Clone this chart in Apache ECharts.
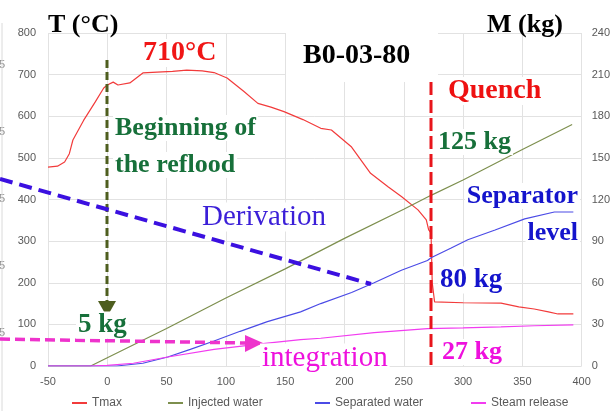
<!DOCTYPE html>
<html><head><meta charset="utf-8">
<script src="https://cdn.jsdelivr.net/npm/echarts@6/dist/echarts.min.js"></script>
<style>html,body{margin:0;padding:0;background:#fff}#c{width:613px;height:411px}</style>
</head><body><div id="c"></div>
<script>
// ---- data ----
const tmaxX = [-50, -42, -36, -32, -29, -20, -10, -3, 0, 5, 9, 19, 30, 42, 55, 67, 80, 90, 101, 115, 127, 138, 149, 165, 180, 189, 206, 222, 237, 248, 262, 269, 271, 273, 274, 276, 300, 332, 347, 360, 372, 380, 393];
const tmaxT = [478, 480, 490, 510, 543, 590, 635, 668, 675, 682, 675, 680, 704, 706, 708, 711, 709, 705, 692, 660, 631, 622, 611, 592, 571, 567, 526, 463, 430, 407, 375, 351, 327, 320, 200, 154, 152, 151, 142, 137, 130, 125, 125];

const injX = [-50, -14, 0, 50, 100, 150, 200, 250, 273, 300, 350, 392];
const injM = [0, 0, 6, 27, 49, 70, 92, 113, 123, 134, 156, 174];

const sepX = [-50, 0, 8, 30, 51, 70, 90, 112, 135, 163, 180, 206, 225, 248, 270, 273, 290, 304, 327, 352, 377, 393];
const sepM = [0, 0, 0, 2, 6.5, 12, 18, 25, 32, 39, 45, 53, 60, 69, 76, 78, 85, 91, 98, 106, 111, 111];

const steamX = [-50, -14, 0, 22, 51, 90, 135, 163, 180, 225, 270, 300, 332, 360, 393];
const steamM = [0, 0, 0.5, 2, 6.5, 12, 16.5, 19, 20, 24, 27, 27.5, 28.2, 29, 29.6];

const seriesNames = ['Tmax', 'Injected water', 'Separated water', 'Steam release'];
const seriesColors = ['#f23b3b', '#7d8f4e', '#4b4be6', '#f23cf0'];

const xTicks = {min: -50, max: 400, interval: 50};
const tTicks = {min: 0, max: 800, interval: 100};
const mTicks = {min: 0, max: 240, interval: 30};

// ---- chart ----
const zip = (xs, ys) => xs.map((x, i) => [x, ys[i]]);
const chart = echarts.init(document.getElementById('c'), null, {renderer: 'canvas'});
const gray = '#595959';
const axisFont = {color: gray, fontFamily: 'Liberation Sans', fontSize: 11};
const serif = 'Liberation Serif';

function txt(text, x, y, size, color, opts) {
  opts = opts || {};
  return {
    type: 'text', x: x, y: y, z: 100,
    style: {
      text: text, fill: color, fontFamily: serif, fontSize: size,
      fontWeight: opts.normal ? 'normal' : 'bold',
      align: opts.align || 'left', verticalAlign: 'middle',
      backgroundColor: opts.noBg ? 'transparent' : '#fff',
      padding: opts.pad || [0, 2, 0, 2]
    }
  };
}
function dline(x1, y1, x2, y2, color, w, dash) {
  return {type: 'line', z: 90, shape: {x1, y1, x2, y2},
    style: {stroke: color, lineWidth: w, lineDash: dash}};
}
function tri(points, color) {
  return {type: 'polygon', z: 91, shape: {points: points}, style: {fill: color}};
}

const legends = seriesNames.map((n, i) => ({
  data: [n], left: [72, 168, 315, 471][i], top: 397, icon: 'rect',
  itemWidth: 15, itemHeight: 2, padding: 0,
  textStyle: {color: gray, fontFamily: 'Liberation Sans', fontSize: 12}
}));

const leftFrag = [65, 132, 199, 266, 333].map(y => ({
  type: 'text', x: -1, y: y, style: {text: '5', fill: '#8a8a8a', fontFamily: 'Liberation Sans', fontSize: 11, verticalAlign: 'middle'}
}));

chart.setOption({
  animation: false,
  backgroundColor: '#fff',
  grid: {left: 48, right: 30, top: 33, bottom: 45},
  legend: legends,
  xAxis: {
    type: 'value', min: xTicks.min, max: xTicks.max, interval: xTicks.interval,
    axisLine: {show: false}, axisTick: {show: false},
    axisLabel: Object.assign({margin: 10}, axisFont),
    splitLine: {show: true, lineStyle: {color: '#e2e2e2', width: 1}}
  },
  yAxis: [
    {type: 'value', min: tTicks.min, max: tTicks.max, interval: tTicks.interval,
      axisLine: {show: false}, axisTick: {show: false},
      axisLabel: Object.assign({margin: 12}, axisFont),
      splitLine: {show: true, lineStyle: {color: '#e2e2e2', width: 1}}},
    {type: 'value', min: mTicks.min, max: mTicks.max, interval: mTicks.interval,
      axisLine: {show: false}, axisTick: {show: false},
      axisLabel: Object.assign({margin: 10}, axisFont),
      splitLine: {show: false}}
  ],
  series: [
    {name: seriesNames[0], type: 'line', yAxisIndex: 0, showSymbol: false, data: zip(tmaxX, tmaxT),
      color: seriesColors[0], lineStyle: {width: 1.2}},
    {name: seriesNames[1], type: 'line', yAxisIndex: 1, showSymbol: false, data: zip(injX, injM),
      color: seriesColors[1], lineStyle: {width: 1.2}},
    {name: seriesNames[2], type: 'line', yAxisIndex: 1, showSymbol: false, data: zip(sepX, sepM),
      color: seriesColors[2], lineStyle: {width: 1.2}},
    {name: seriesNames[3], type: 'line', yAxisIndex: 1, showSymbol: false, data: zip(steamX, steamM),
      color: seriesColors[3], lineStyle: {width: 1.2}}
  ],
  graphic: [
    // fragments of a neighbouring figure at the far left
    dline(2, 23, 2, 411, '#dadada', 1, null),
    ...leftFrag,
    // white box behind the title
    {type: 'rect', z: 80, shape: {x: 286, y: 27, width: 152, height: 55}, style: {fill: '#fff'}},
    txt('T (°C)', 46, 25, 26, '#000', {noBg: true}),
    txt('M (kg)', 485, 25, 26, '#000', {noBg: true}),
    txt('710°C', 141, 53, 28, '#f01616'),
    txt('B0-03-80', 301, 56, 28, '#000', {noBg: true}),
    txt('Quench', 446, 91, 28, '#ee1111'),
    txt('Beginning of', 113, 128, 26, '#17703a'),
    txt('the reflood', 113, 165, 26, '#17703a'),
    txt('125 kg', 436, 142, 26, '#17703a'),
    txt('Separator', 580, 196, 26, '#1414cc', {align: 'right'}),
    txt('level', 580, 233, 26, '#1414cc', {align: 'right'}),
    txt('Derivation', 200, 217, 29, '#3b1fd8', {normal: true}),
    txt('80 kg', 438, 280, 27, '#1414cc'),
    txt('27 kg', 440, 352, 26, '#ee10dd'),
    txt('5 kg', 76, 325, 27, '#17703a'),
    txt('integration', 260, 358, 29, '#ee10dd', {normal: true}),
    // arrows / guides
    dline(107, 60, 107, 302, '#4e5e1f', 3, [8, 4]),
    tri([[98, 301], [116, 301], [107, 317]], '#4e5e1f'),
    dline(0, 179, 371, 284, '#3b10e0', 4, [13, 7]),
    dline(0, 339, 246, 343, '#ee33cc', 3.5, [10, 5]),
    tri([[245, 335], [245, 352], [263, 343]], '#ee33cc'),
    dline(431, 82, 431, 367, '#e8151b', 3, [13, 5])
  ]
});
</script>
</body></html>
